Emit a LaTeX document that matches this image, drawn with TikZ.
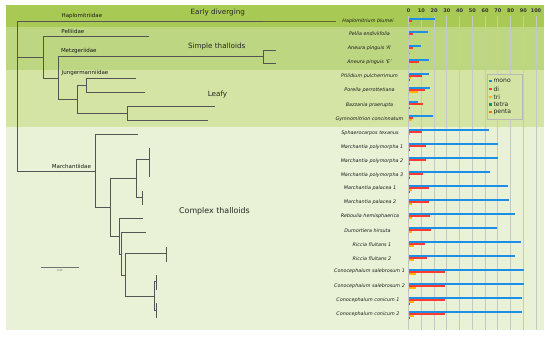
\documentclass[tikz,border=0pt]{standalone}
\usepackage{fontspec}
\setmainfont{DejaVu Sans}
\definecolor{bandA}{HTML}{A9C955}
\definecolor{bandB}{HTML}{BDD682}
\definecolor{bandC}{HTML}{D3E4A5}
\definecolor{bandD}{HTML}{E9F2D6}
\definecolor{monoc}{HTML}{1E8FE6}
\definecolor{dic}{HTML}{FF3B30}
\definecolor{tric}{HTML}{FFB400}
\definecolor{tetrac}{HTML}{17985A}
\definecolor{pentac}{HTML}{FF6A1A}
\definecolor{treec}{HTML}{555555}
\definecolor{haploc}{HTML}{5E6B2A}
\newcommand\bargrp[6]{%
 \fill[monoc] (408.5,{#1-3.0}) rectangle ({408.5+1.275*#2},{#1-1.0});
 \fill[dic] (408.5,{#1-1.0}) rectangle ({408.5+1.275*#3},{#1+1.0});
 \fill[tric] (408.5,{#1+1.0}) rectangle ({408.5+1.275*#4},{#1+3.0});
 \fill[tetrac] (408.5,{#1+3.0}) rectangle ({408.5+1.275*#5},{#1+4.8});
 \fill[pentac] (408.5,{#1+4.8}) rectangle ({408.5+1.275*#6},{#1+6.4});
}
\begin{document}
\begin{tikzpicture}[x=1pt,y=-1pt,
  tree/.style={draw=treec,line width=0.75pt,line cap=rect},
  gridl/.style={draw=black!22,line width=0.6pt},
  spname/.style={font=\fontsize{4.85}{5}\selectfont\itshape,inner sep=0pt,text=black!90},
  clade/.style={font=\fontsize{5.5}{6}\selectfont,inner sep=0pt,anchor=west,text=black!90},
  grouptitle/.style={font=\fontsize{7.2}{8}\selectfont,inner sep=0pt,text=black!85},
  tick/.style={font=\fontsize{5}{6}\selectfont\bfseries,inner sep=0pt,text=black!80},
  legtext/.style={font=\fontsize{6.1}{7}\selectfont,inner sep=0pt,anchor=west,text=black!85}]
\useasboundingbox (0,0) rectangle (550,338);
\fill[white] (0,0) rectangle (550,338);
% bands
\fill[bandA] (6,5) rectangle (544,27);
\fill[bandB] (6,27) rectangle (544,70);
\fill[bandC] (6,70) rectangle (544,126.5);
\fill[bandD] (6,126.5) rectangle (544,330);
% grid and ticks
\foreach \k in {0,...,10}{
  \draw[gridl] ({408.5+12.75*\k},16) -- ({408.5+12.75*\k},330);
  \pgfmathtruncatemacro{\v}{10*\k}
  \node[tick] (t\k) at ({408.5+12.75*\k},11) {\v};
}
% legend
\node[draw=black!28,line width=1.2pt,fill=bandC,minimum width=34.6pt,minimum height=45pt,inner sep=0pt] (legend) at (505,96.8) {};
\fill[monoc] (489.3,79.8) rectangle (491.8,82.3);
\node[legtext] (lmono) at (493.3,81) {mono};
\fill[dic] (489.3,87.8) rectangle (491.8,90.3);
\node[legtext] (ldi) at (493.3,89) {di};
\fill[tric] (489.3,95.5) rectangle (491.8,98);
\node[legtext] (ltri) at (493.3,96.7) {tri};
\fill[tetrac] (489.3,103.1) rectangle (491.8,105.6);
\node[legtext] (ltetra) at (493.3,104.3) {tetra};
\fill[pentac] (489.3,110.9) rectangle (491.8,113.4);
\node[legtext] (lpenta) at (493.3,112.1) {penta};
% bars
\bargrp{21}{20.5}{3}{0}{0}{0}
\bargrp{34}{15}{3.7}{1}{0}{0}
\bargrp{48}{10}{3.7}{0}{0}{1}
\bargrp{62}{15.7}{8}{0}{0}{0}
\bargrp{76}{15.7}{10.8}{2}{1}{0}
\bargrp{90}{16.5}{12.6}{7.6}{0}{0}
\bargrp{104}{7.6}{11.6}{0}{1}{0}
\bargrp{118}{19.5}{3.5}{3}{0}{0}
\bargrp{132}{63}{10.2}{1}{0}{0}
\bargrp{146}{70}{14}{0.5}{1}{0}
\bargrp{160}{70}{14}{0.5}{1}{0}
\bargrp{174}{64}{11}{0.5}{1}{0}
\bargrp{188}{77.7}{16}{3}{1}{0}
\bargrp{202}{78.7}{16}{3}{0}{0}
\bargrp{216}{83.7}{17}{2.5}{0}{0}
\bargrp{230}{69.8}{17.8}{2.5}{0}{0}
\bargrp{244}{88.5}{12.6}{4.5}{0}{0}
\bargrp{258}{83.5}{14.7}{4.5}{0}{0}
\bargrp{272}{90.3}{28.6}{6}{0}{0}
\bargrp{286}{90.3}{28.6}{6}{0}{0}
\bargrp{300}{89}{28.6}{4}{1}{0}
\bargrp{314}{89}{28.6}{4}{1}{0}
% species names
\node[spname] (s1) at (368,21) {Haplomitrium blumei};
\node[spname] (s2) at (369.5,33.5) {Pellia endiviifolia};
\node[spname] (s3) at (369.5,48) {Aneura pinguis `A'};
\node[spname] (s4) at (369.5,62) {Aneura pinguis `E'};
\node[spname] (s5) at (369.5,76) {Ptilidium pulcherrimum};
\node[spname] (s6) at (369.5,90.3) {Porella perrottetiana};
\node[spname] (s7) at (369.5,104.7) {Bazzania praerupta};
\node[spname] (s8) at (369.5,118.7) {Gymnomitrion concinnatum};
\node[spname] (s9) at (370,132.7) {Sphaerocarpos texanus};
\node[spname] (s10) at (372,146.7) {Marchantia polymorpha 1};
\node[spname] (s11) at (372,160.8) {Marchantia polymorpha 2};
\node[spname] (s12) at (372,175) {Marchantia polymorpha 3};
\node[spname] (s13) at (370,188.5) {Marchantia palacea 1};
\node[spname] (s14) at (370,202.3) {Marchantia palacea 2};
\node[spname] (s15) at (370,216.5) {Reboulia hemisphaerica};
\node[spname] (s16) at (367.5,230.7) {Dumortiera hirsuta};
\node[spname] (s17) at (372,244.7) {Riccia fluitans 1};
\node[spname] (s18) at (372,258.3) {Riccia fluitans 2};
\node[spname] (s19) at (369.5,271.5) {Conocephalum salebrosum 1};
\node[spname] (s20) at (369.5,285.7) {Conocephalum salebrosum 2};
\node[spname] (s21) at (368,299.7) {Conocephalum conicum 1};
\node[spname] (s22) at (368,314) {Conocephalum conicum 2};
% tree
\draw[tree] (17.3,21.7) -- (17.3,171);
\draw[tree] (17.3,21.7) -- (263.3,21.7);
\draw[tree,draw=haploc,line width=1pt] (263.3,21.7) -- (335.7,21.7);
\draw[tree] (17.3,57.3) -- (43.3,57.3) (43.3,36) -- (43.3,78.3) (43.3,36) -- (148.3,36);
\draw[tree] (43.3,78.3) -- (58.3,78.3) (58.3,56.7) -- (58.3,99.3) (58.3,56.7) -- (263.3,56.7)
  (263.3,50) -- (263.3,63.3) (263.3,50) -- (276,50) (263.3,63.3) -- (276,63.3);
\draw[tree] (58.3,99.3) -- (77.7,99.3) (77.7,85) -- (77.7,113.3) (77.7,85) -- (86,85)
  (86,78.3) -- (86,92.3) (86,78.3) -- (135.7,78.3) (86,92.3) -- (145,92.3)
  (77.7,113.3) -- (127.7,113.3) (127.7,106.7) -- (127.7,120.7)
  (127.7,106.7) -- (214.3,106.7) (127.7,120.7) -- (207.3,120.7);
\draw[tree] (17.3,171) -- (95,171) (95,134.3) -- (95,207.3) (95,134.3) -- (137.7,134.3)
  (95,207.3) -- (110,207.3) (110,178.3) -- (110,236.7)
  (110,178.3) -- (136.7,178.3) (136.7,159.3) -- (136.7,197.7)
  (136.7,159.3) -- (149.3,159.3) (149.3,148.3) -- (149.3,176.7)
  (136.7,197.7) -- (142.7,197.7) (142.7,191) -- (142.7,205)
  (110,236.7) -- (119.3,236.7) (119.3,218.3) -- (119.3,254.3) (119.3,218.3) -- (142.7,218.3)
  (119.3,254.3) -- (121.7,254.3) (121.7,232.7) -- (121.7,275) (121.7,232.7) -- (145.7,232.7)
  (121.7,275) -- (125,275) (125,253.3) -- (125,296) (125,253.3) -- (166,253.3)
  (166,247.3) -- (166,261.7)
  (125,296) -- (154.3,296) (154.3,281.7) -- (154.3,310.7)
  (154.3,281.7) -- (156.7,281.7) (156.7,275) -- (156.7,290)
  (154.3,310.7) -- (156.7,310.7) (156.7,303.3) -- (156.7,317.3);
% scale bar
\draw[draw=black!55,line width=0.5pt] (41,267.3) -- (79,267.3);
\node[font=\fontsize{2.6}{3}\selectfont,inner sep=0pt,text=black!60] (sbar) at (60,271) {0.05};
% clade labels
\node[clade] (haplo) at (61.5,15.7) {Haplomitriidae};
\node[clade] (pell) at (61.2,31) {Pelliidae};
\node[clade] (metz) at (60.8,51) {Metzgeriidae};
\node[clade] (jung) at (61.5,72.7) {Jungermanniidae};
\node[clade] (march) at (51.7,166) {Marchantiidae};
% group titles
\node[grouptitle] (g1) at (217.8,12.3) {Early diverging};
\node[grouptitle] (g2) at (216.7,46.7) {Simple thalloids};
\node[grouptitle] (g3) at (217.5,95) {Leafy};
\node[grouptitle,font=\fontsize{7.9}{9}\selectfont] (g4) at (214.5,211.7) {Complex thalloids};
\end{tikzpicture}
\end{document}
